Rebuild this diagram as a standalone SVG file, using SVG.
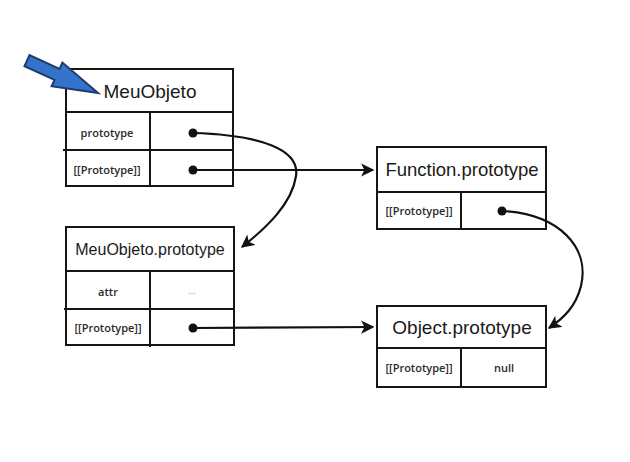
<svg xmlns="http://www.w3.org/2000/svg" width="630" height="462" viewBox="0 0 630 462">
<style>
.box{fill:#fff;stroke:#151515;stroke-width:2}
.ln{stroke:#151515;stroke-width:2;fill:none}
.title{font-family:"Liberation Sans",Arial,sans-serif;fill:#1a1a1a;text-anchor:middle}
.lbl{font-family:"Open Sans","Liberation Sans",sans-serif;font-size:11px;font-weight:600;fill:#2a2a2a;text-anchor:middle}
.con{stroke:#111;stroke-width:2.2;fill:none}
.dot{fill:#111}
</style>
<defs>
<marker id="ah" viewBox="0 0 10 10" refX="9" refY="5" markerWidth="6" markerHeight="6" orient="auto" markerUnits="strokeWidth">
<path d="M0,0 L10,5 L0,10 L2.5,5 z" fill="#111"/>
</marker>
</defs>
<rect width="630" height="462" fill="#fff"/>

<g id="meuobjeto">
<rect class="box" x="66" y="69" width="167" height="117"/>
<line class="ln" x1="66" y1="112" x2="233" y2="112"/>
<line class="ln" x1="63" y1="150" x2="232" y2="150"/>
<line class="ln" x1="150" y1="112" x2="150" y2="187"/>
<text class="title" x="150" y="98" font-size="19">MeuObjeto</text>
<text class="lbl" x="107" y="137">prototype</text>
<text class="lbl" x="107" y="174">[[Prototype]]</text>
<circle class="dot" cx="193" cy="133" r="4.5"/>
<circle class="dot" cx="193" cy="170" r="4.5"/>
</g>

<g id="meuobjeto-prototype">
<rect class="box" x="66" y="227" width="168" height="118"/>
<line class="ln" x1="66" y1="271" x2="234" y2="271"/>
<line class="ln" x1="64" y1="309" x2="233" y2="309"/>
<line class="ln" x1="150" y1="271" x2="150" y2="347"/>
<text class="title" x="150" y="255" font-size="16">MeuObjeto.prototype</text>
<text class="lbl" x="108" y="296">attr</text>
<text class="lbl" x="192" y="294" style="fill:#aaa;font-size:9px">...</text>
<text class="lbl" x="108" y="332">[[Prototype]]</text>
<circle class="dot" cx="193" cy="328" r="4.5"/>
</g>

<g id="function-prototype">
<rect class="box" x="377" y="147" width="169" height="82"/>
<line class="ln" x1="377" y1="192" x2="546" y2="192"/>
<line class="ln" x1="461" y1="192" x2="461" y2="229"/>
<text class="title" x="462" y="176" font-size="18.5">Function.prototype</text>
<text class="lbl" x="419" y="215">[[Prototype]]</text>
<circle class="dot" cx="502" cy="211" r="4.5"/>
</g>

<g id="object-prototype">
<rect class="box" x="377" y="306" width="169" height="81"/>
<line class="ln" x1="377" y1="348" x2="546" y2="348"/>
<line class="ln" x1="461" y1="348" x2="461" y2="387"/>
<text class="title" x="462" y="334" font-size="19">Object.prototype</text>
<text class="lbl" x="419" y="372">[[Prototype]]</text>
<text class="lbl" x="504" y="372">null</text>
</g>

<g id="pointer">
<polygon points="24.5,66.2 29.5,55.2 59.5,68.9 62.4,62.6 98,93 51.6,86.2 54.5,79.9" fill="#3373c9" stroke="#1d3b6c" stroke-width="2" stroke-linejoin="miter"/>
</g>

<g id="connectors">
<path class="con" d="M193,133 C262,135 300,150 296,176 C292,204 266,228 242,247" marker-end="url(#ah)"/>
<path class="con" d="M193,170 L373,170" marker-end="url(#ah)"/>
<path class="con" d="M502,211 C560,214 590,248 581,286 C576,306 564,318 549,328" marker-end="url(#ah)"/>
<path class="con" d="M193,328 L373,327" marker-end="url(#ah)"/>
</g>
</svg>
